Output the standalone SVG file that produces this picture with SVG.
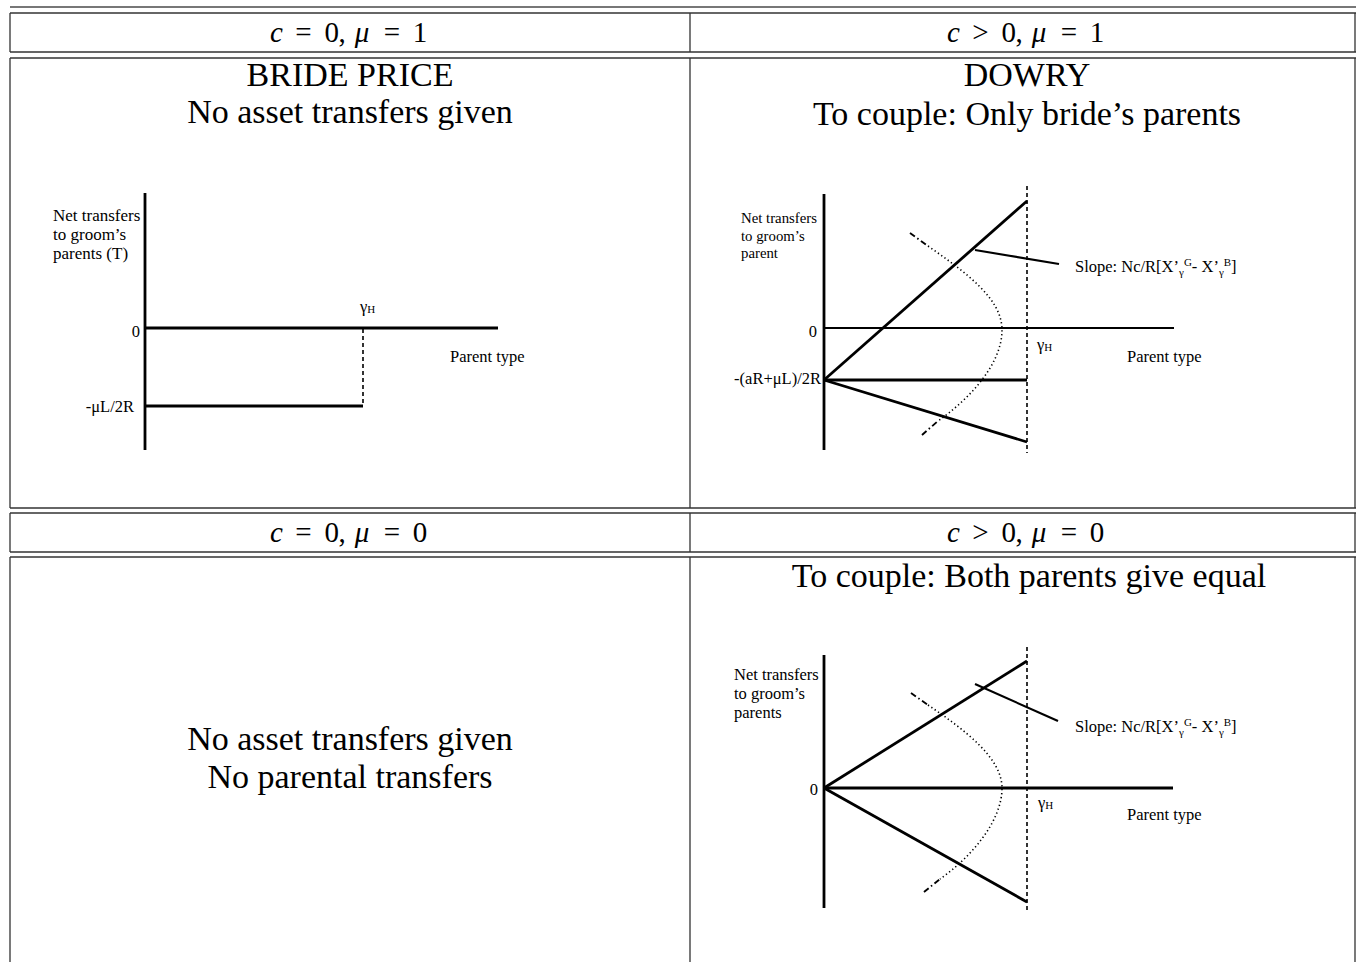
<svg xmlns="http://www.w3.org/2000/svg" width="1356" height="962" viewBox="0 0 1356 962">
<style>
.grid{stroke:#333;stroke-width:1.3;fill:none}
.toprule{stroke:#777;stroke-width:2;fill:none}
.title{font-family:"Liberation Serif",serif;font-size:34px;text-anchor:middle;fill:#000}
.math{font-family:"Liberation Serif",serif;font-size:29px;text-anchor:middle;fill:#000}
.mi{font-style:italic}
.lbl{font-family:"Liberation Serif",serif;font-size:16.5px;fill:#000}
.sm{font-size:14.8px}
.md{font-size:17px}
.sub{font-size:11px}
.end{text-anchor:end}
.axis{stroke:#000;stroke-width:2.8;fill:none}
.thin{stroke:#000;stroke-width:2.2;fill:none}
.dash{stroke:#000;stroke-width:1.6;stroke-dasharray:4 3;fill:none}
.dot{stroke:#000;stroke-width:1.6;stroke-dasharray:1.3 2.7;fill:none}
.dashdot{stroke:#000;stroke-width:1.9;stroke-dasharray:6 3 1.5 3;fill:none}
.lead{stroke:#000;stroke-width:2.1;fill:none}
</style>
<rect width="1356" height="962" fill="#fff"/>

<g id="table">
  <line class="toprule" x1="10" y1="7" x2="1356" y2="7"/>
  <line class="grid" x1="10" y1="13" x2="1356" y2="13"/>
  <line class="grid" x1="10" y1="52" x2="1356" y2="52"/>
  <line class="grid" x1="10" y1="58" x2="1356" y2="58"/>
  <line class="grid" x1="10" y1="508" x2="1356" y2="508"/>
  <line class="grid" x1="10" y1="513" x2="1356" y2="513"/>
  <line class="grid" x1="10" y1="552" x2="1356" y2="552"/>
  <line class="grid" x1="10" y1="557" x2="1356" y2="557"/>
  <path class="grid" d="M10,13V52M10,58V508M10,513V552M10,557V962M690,13V52M690,58V508M690,513V552M690,557V962M1355,13V52M1355,58V508M1355,513V552M1355,557V962"/>
</g>

<g id="header-c0-mu1">
  <text class="math" y="42"><tspan class="mi" x="276.5">c</tspan><tspan x="303.5">=</tspan><tspan x="331.7">0</tspan><tspan x="342">,</tspan><tspan class="mi" x="362">μ</tspan><tspan x="392">=</tspan><tspan x="420">1</tspan></text>
</g>
<g id="header-cpos-mu1">
  <text class="math" y="42"><tspan class="mi" x="953.5">c</tspan><tspan x="980.5">&gt;</tspan><tspan x="1008.7">0</tspan><tspan x="1019">,</tspan><tspan class="mi" x="1039">μ</tspan><tspan x="1069">=</tspan><tspan x="1097">1</tspan></text>
</g>
<g id="header-c0-mu0">
  <text class="math" y="542"><tspan class="mi" x="276.5">c</tspan><tspan x="303.5">=</tspan><tspan x="331.7">0</tspan><tspan x="342">,</tspan><tspan class="mi" x="362">μ</tspan><tspan x="392">=</tspan><tspan x="420">0</tspan></text>
</g>
<g id="header-cpos-mu0">
  <text class="math" y="542"><tspan class="mi" x="953.5">c</tspan><tspan x="980.5">&gt;</tspan><tspan x="1008.7">0</tspan><tspan x="1019">,</tspan><tspan class="mi" x="1039">μ</tspan><tspan x="1069">=</tspan><tspan x="1097">0</tspan></text>
</g>

<g id="panel-bride-price">
  <text class="title" x="350" y="86">BRIDE PRICE</text>
  <text class="title" x="350" y="123">No asset transfers given</text>
  <line class="axis" x1="145" y1="193" x2="145" y2="450"/>
  <line class="axis" x1="145" y1="328" x2="498" y2="328"/>
  <line class="axis" x1="145" y1="406" x2="363" y2="406"/>
  <line class="dash" x1="363" y1="329" x2="363" y2="406"/>
  <text class="lbl md" x="53" y="221">Net transfers</text>
  <text class="lbl md" x="53" y="240">to groom’s</text>
  <text class="lbl md" x="53" y="259">parents (T)</text>
  <text class="lbl end" x="140" y="337">0</text>
  <text class="lbl end" x="134" y="412">-μL/2R</text>
  <text class="lbl" x="360" y="312">γ<tspan class="sub" dy="1">H</tspan></text>
  <text class="lbl" x="450" y="362">Parent type</text>
</g>

<g id="panel-dowry">
  <text class="title" x="1027" y="86">DOWRY</text>
  <text class="title" x="1027" y="125">To couple: Only bride’s parents</text>
  <line class="axis" x1="824" y1="194" x2="824" y2="450"/>
  <line class="thin" x1="824" y1="328" x2="1174" y2="328"/>
  <line class="dash" x1="1027" y1="186" x2="1027" y2="453"/>
  <line class="axis" x1="824" y1="380" x2="1027" y2="201"/>
  <line class="axis" x1="824" y1="380" x2="1027" y2="380"/>
  <line class="axis" x1="824" y1="380" x2="1027" y2="442"/>
  <path class="dot" d="M928,246 C965,272 1002,298 1002,330 C1002,365 968,400 938,421"/>
  <path class="dashdot" d="M910,233 L928,246"/>
  <path class="dashdot" d="M922,435 L938,421"/>
  <line class="lead" x1="975" y1="250" x2="1059" y2="264"/>
  <text class="lbl sm" x="741" y="223">Net transfers</text>
  <text class="lbl sm" x="741" y="241">to groom’s</text>
  <text class="lbl sm" x="741" y="258">parent</text>
  <text class="lbl end" x="817" y="337">0</text>
  <text class="lbl end" x="821" y="384">-(aR+μL)/2R</text>
  <text class="lbl" x="1037" y="350">γ<tspan class="sub" dy="1">H</tspan></text>
  <text class="lbl" x="1127" y="362">Parent type</text>
  <text class="lbl" x="1075" y="272">Slope: Nc/R[X’<tspan class="sub" dy="4">γ</tspan><tspan class="sub" dy="-10">G</tspan><tspan dy="6">- X’</tspan><tspan class="sub" dy="4">γ</tspan><tspan class="sub" dy="-10">B</tspan><tspan dy="6">]</tspan></text>
</g>

<g id="panel-none">
  <text class="title" x="350" y="750">No asset transfers given</text>
  <text class="title" x="350" y="788">No parental transfers</text>
</g>

<g id="panel-equal">
  <text class="title" x="1029" y="587">To couple: Both parents give equal</text>
  <line class="axis" x1="824" y1="655" x2="824" y2="908"/>
  <line class="axis" x1="824" y1="788" x2="1173" y2="788"/>
  <line class="dash" x1="1027" y1="647" x2="1027" y2="912"/>
  <line class="axis" x1="824" y1="788" x2="1027" y2="661"/>
  <line class="axis" x1="824" y1="788" x2="1027" y2="902"/>
  <path class="dot" d="M928,705 C965,730 1002,758 1002,788 C1002,822 970,858 940,879"/>
  <path class="dashdot" d="M911,693 L928,705"/>
  <path class="dashdot" d="M924,892 L940,879"/>
  <line class="lead" x1="975" y1="684" x2="1058" y2="721"/>
  <text class="lbl" x="734" y="680">Net transfers</text>
  <text class="lbl" x="734" y="699">to groom’s</text>
  <text class="lbl" x="734" y="718">parents</text>
  <text class="lbl end" x="818" y="795">0</text>
  <text class="lbl" x="1038" y="808">γ<tspan class="sub" dy="1">H</tspan></text>
  <text class="lbl" x="1127" y="820">Parent type</text>
  <text class="lbl" x="1075" y="732">Slope: Nc/R[X’<tspan class="sub" dy="4">γ</tspan><tspan class="sub" dy="-10">G</tspan><tspan dy="6">- X’</tspan><tspan class="sub" dy="4">γ</tspan><tspan class="sub" dy="-10">B</tspan><tspan dy="6">]</tspan></text>
</g>
</svg>
